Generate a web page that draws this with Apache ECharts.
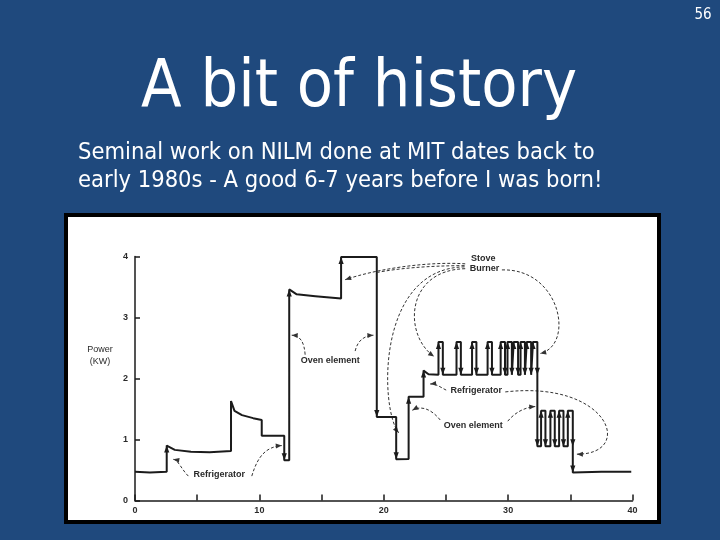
<!DOCTYPE html>
<html><head><meta charset="utf-8">
<script src="https://cdn.jsdelivr.net/npm/echarts@6/dist/echarts.min.js"></script>
<style>html,body{margin:0;padding:0;background:#1f497d}#c{width:720px;height:540px}</style>
</head><body><div id="c"></div>
<script>
// ---- data ----
const xTickValues = [0, 10, 20, 30, 40];
const yTickValues = [0, 1, 2, 3, 4];
const traceX = [0, 1.2, 2.55, 2.55, 3.2, 4.5, 6.0, 7.72, 7.72, 8.0, 8.6, 9.5, 10.19, 10.19, 12.0, 12.0, 12.4, 12.4, 13.0, 14.5, 16.57, 16.57, 19.44, 19.44, 21.0, 21.0, 22.0, 22.0, 23.2, 23.2, 23.6, 24.4,
  24.4, 24.75, 24.75, 25.85, 25.85, 26.2, 26.2, 27.1, 27.1, 27.45, 27.45, 28.35, 28.35, 28.7, 28.7, 29.4, 29.4, 29.75, 29.75, 29.95, 29.95, 30.3, 30.3, 30.45, 30.45, 30.8, 30.8, 31.0, 31.0, 31.35, 31.35, 31.5, 31.5, 31.85, 31.85, 32.0, 32.0, 32.35, 32.35, 32.35,
  32.65, 32.65, 33.0, 33.0, 33.4, 33.4, 33.75, 33.75, 34.1, 34.1, 34.45, 34.45, 34.8, 34.8, 35.2, 35.2, 35.2, 37.5, 39.9];
const traceY = [0.47, 0.46, 0.47, 0.90, 0.83, 0.80, 0.79, 0.81, 1.63, 1.47, 1.40, 1.35, 1.32, 1.06, 1.06, 0.66, 0.66, 3.46, 3.38, 3.35, 3.31, 3.99, 3.99, 1.37, 1.37, 0.675, 0.68, 1.70, 1.70, 2.13, 2.07, 2.06,
  2.60, 2.60, 2.06, 2.06, 2.60, 2.60, 2.06, 2.06, 2.60, 2.60, 2.06, 2.06, 2.60, 2.60, 2.06, 2.06, 2.60, 2.60, 2.06, 2.06, 2.60, 2.60, 2.06, 2.06, 2.60, 2.60, 2.06, 2.06, 2.60, 2.60, 2.06, 2.06, 2.60, 2.60, 2.06, 2.06, 2.60, 2.60, 2.06, 0.89,
  0.89, 1.47, 1.47, 0.89, 0.89, 1.47, 1.47, 0.89, 0.89, 1.47, 1.47, 0.89, 0.89, 1.47, 1.47, 0.89, 0.46, 0.47, 0.47];
const stepsWithoutArrow = [7.72, 10.19];
const noteTexts = ['Refrigerator', 'Oven element', 'Stove', 'Burner', 'Refrigerator', 'Oven element'];
const noteX = [6.78, 15.7, 28.0, 28.1, 27.43, 27.2];
const noteY = [0.43, 2.30, 3.97, 3.81, 1.80, 1.23];
// dashed callout curves (cubic bezier in data units): start, control1, control2, end
const calloutStart = [[4.29,0.40],[9.39,0.40],[13.68,2.39],[17.7,2.45],[26.55,3.88],[26.5,3.85],[26.5,3.83],[26.55,3.80],[29.5,3.78],[25.02,1.81],[29.77,1.78],[24.54,1.32],[29.97,1.30]];
const calloutC1 = [[3.7,0.52],[9.9,0.75],[13.6,2.6],[17.9,2.62],[23.5,3.92],[23.5,3.85],[19.31,3.81],[21.72,3.78],[34.2,3.81],[24.6,1.85],[38.2,1.975],[23.9,1.48],[30.57,1.45]];
const calloutC2 = [[3.5,0.66],[10.6,0.88],[13.3,2.7],[18.4,2.70],[19.5,3.8],[21.0,3.8],[19.71,1.48],[21.56,2.71],[35.4,2.55],[24.2,1.92],[40.2,0.75],[23.09,1.57],[31.4,1.53]];
const calloutEnd = [[3.08,0.675],[11.8,0.90],[12.6,2.71],[19.17,2.71],[16.9,3.62],[19.5,3.74],[21.2,1.11],[24.05,2.36],[32.58,2.41],[23.73,1.91],[35.53,0.76],[22.3,1.48],[32.18,1.54]];
const calloutHasArrow = [1,1,1,1,1,0,1,1,1,1,1,1,1];

// ---- build ----
const trace = traceX.map((x, i) => [x, traceY[i]]);
const arrows = [];
for (let i = 1; i < traceX.length; i++) {
  if (traceX[i] === traceX[i-1] && traceY[i] !== traceY[i-1] && !stepsWithoutArrow.includes(traceX[i])) {
    arrows.push([traceX[i], traceY[i], traceY[i] > traceY[i-1] ? 1 : -1]);
  }
}
const notes = noteTexts.map((t, i) => [noteX[i], noteY[i], i]);
const callouts = calloutStart.map((p, i) => [p[0], p[1], i]);

const ink = '#1b1b1b';
const slideFont = '"DejaVu Sans Condensed", "DejaVu Sans", sans-serif';
const chart = echarts.init(document.getElementById('c'));
chart.setOption({
  backgroundColor: '#1f497d',
  animation: false,
  graphic: [
    { type: 'rect', z: 0, shape: { x: 66, y: 215, width: 593, height: 307 }, style: { fill: '#ffffff', stroke: '#000000', lineWidth: 4 } },
    { type: 'text', z: 1, x: 703, y: 15, style: { text: '56', fill: '#ffffff', font: '15px ' + slideFont, align: 'center', verticalAlign: 'middle' } },
    { type: 'text', z: 1, x: 359, y: 88.5, style: { text: 'A bit of history', fill: '#ffffff', font: '66px ' + slideFont, align: 'center', verticalAlign: 'middle' } },
    { type: 'text', z: 1, x: 78, y: 153, style: { text: 'Seminal work on NILM done at MIT dates back to', fill: '#ffffff', font: '23.5px ' + slideFont, align: 'left', verticalAlign: 'middle' } },
    { type: 'text', z: 1, x: 78, y: 180.5, style: { text: 'early 1980s - A good 6-7 years before I was born!', fill: '#ffffff', font: '23.5px ' + slideFont, align: 'left', verticalAlign: 'middle' } },
    { type: 'text', z: 5, x: 100, y: 356, style: { text: 'Power\n(KW)', fill: '#2a2a2a', font: '9px "Liberation Sans", Arial, sans-serif', align: 'center', verticalAlign: 'middle', lineHeight: 12 } }
  ],
  grid: { left: 135, top: 256.5, width: 497.5, height: 244, containLabel: false },
  xAxis: {
    type: 'value', min: 0, max: 40, interval: 5,
    axisLine: { lineStyle: { color: ink, width: 1.5 } },
    axisTick: { inside: true, length: 6, lineStyle: { color: ink, width: 1.5 } },
    axisLabel: { color: '#2a2a2a', fontSize: 9, fontWeight: 'bold', fontFamily: 'Liberation Sans', margin: 6,
      formatter: v => xTickValues.includes(v) ? String(v) : '' },
    splitLine: { show: false }
  },
  yAxis: {
    type: 'value', min: 0, max: 4, interval: 1,
    axisLine: { show: true, lineStyle: { color: ink, width: 1.5 } },
    axisTick: { show: true, inside: true, length: 5, lineStyle: { color: ink, width: 1.5 } },
    axisLabel: { color: '#2a2a2a', fontSize: 9, fontWeight: 'bold', fontFamily: 'Liberation Sans', margin: 7,
      formatter: v => yTickValues.includes(v) ? String(v) : '' },
    splitLine: { show: false }
  },
  series: [
    { type: 'line', data: trace, showSymbol: false, symbol: 'none', lineStyle: { color: ink, width: 2 }, z: 3, clip: false },
    { type: 'custom', data: arrows, z: 4, clip: false,
      renderItem: (params, api) => {
        const p = api.coord([api.value(0), api.value(1)]);
        const d = api.value(2);
        const h = 7 * d, w = 2.6;
        return { type: 'polygon', shape: { points: [[p[0], p[1]], [p[0] - w, p[1] + h], [p[0] + w, p[1] + h]] }, style: { fill: ink } };
      } },
    { type: 'custom', data: callouts, z: 2, clip: false,
      renderItem: (params, api) => {
        const i = api.value(2);
        const a = api.coord(calloutStart[i]), c1 = api.coord(calloutC1[i]), c2 = api.coord(calloutC2[i]), b = api.coord(calloutEnd[i]);
        const children = [{ type: 'bezierCurve', shape: { x1: a[0], y1: a[1], cpx1: c1[0], cpy1: c1[1], cpx2: c2[0], cpy2: c2[1], x2: b[0], y2: b[1] },
          style: { stroke: '#333333', lineWidth: 1, lineDash: [3, 2], fill: null } }];
        if (calloutHasArrow[i]) {
          const ang = Math.atan2(b[1] - c2[1], b[0] - c2[0]);
          const L = 6, W = 2.5;
          const bx = b[0] - L * Math.cos(ang), by = b[1] - L * Math.sin(ang);
          const nx = -Math.sin(ang) * W, ny = Math.cos(ang) * W;
          children.push({ type: 'polygon', shape: { points: [[b[0], b[1]], [bx + nx, by + ny], [bx - nx, by - ny]] }, style: { fill: '#333333' } });
        }
        return { type: 'group', children };
      } },
    { type: 'custom', data: notes, z: 5, clip: false,
      renderItem: (params, api) => {
        const p = api.coord([api.value(0), api.value(1)]);
        return { type: 'text', x: p[0], y: p[1], style: { text: noteTexts[api.value(2)], fill: '#2a2a2a', font: 'bold 9px "Liberation Sans", Arial, sans-serif', align: 'center', verticalAlign: 'middle', backgroundColor: '#ffffff', padding: [0, 1] } };
      } }
  ]
});
</script></body></html>
